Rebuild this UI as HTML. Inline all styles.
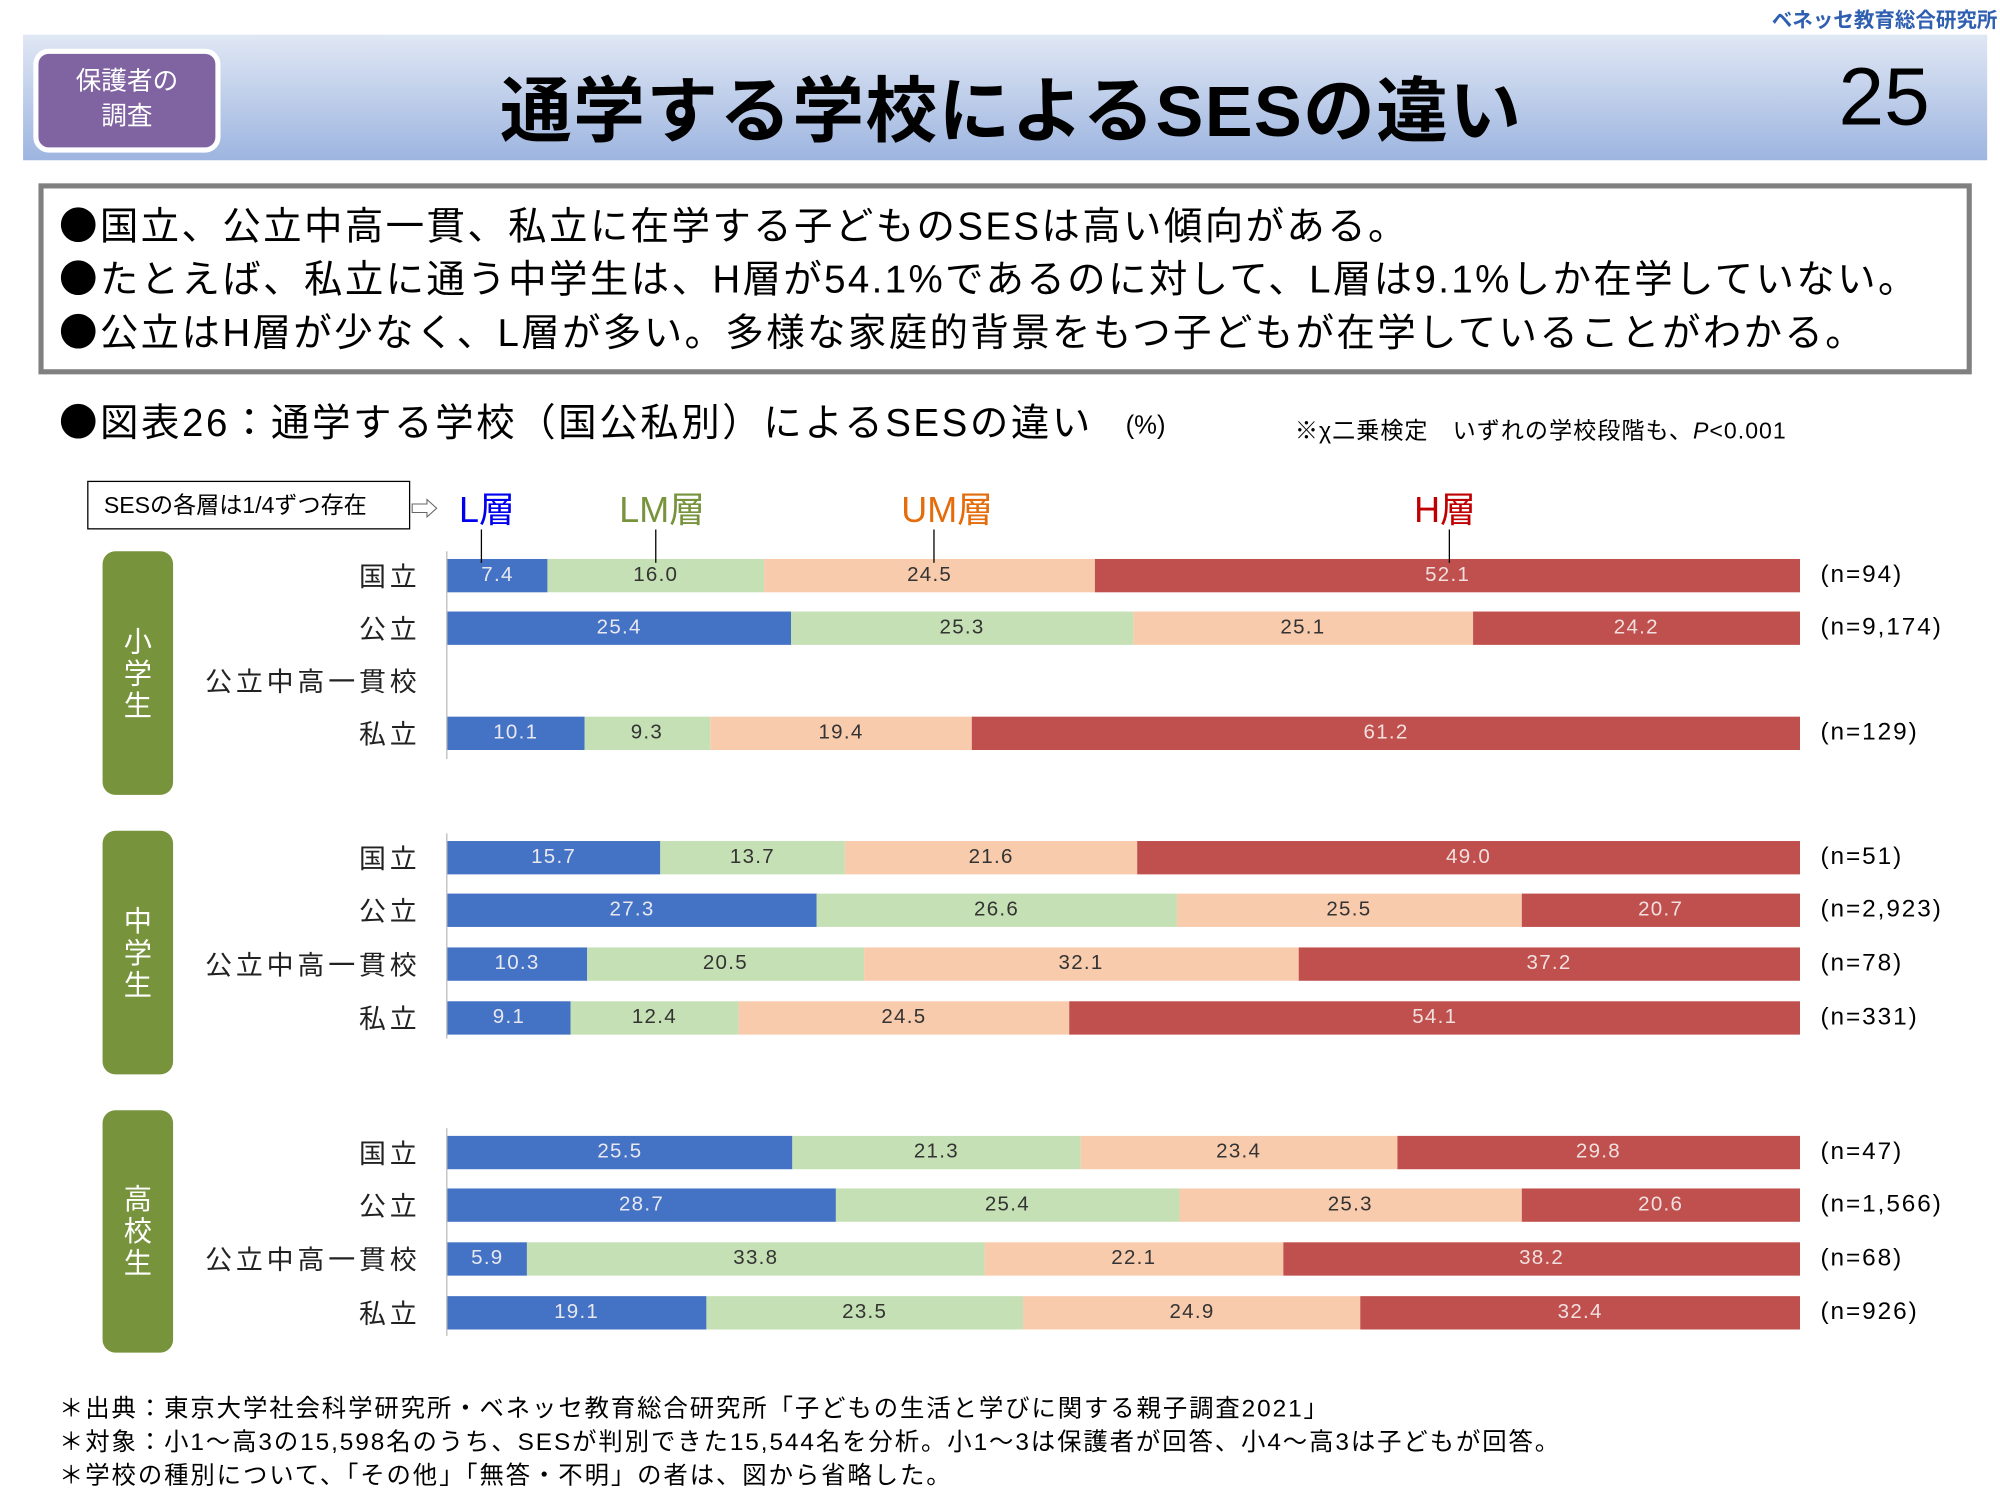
<!DOCTYPE html>
<html><head><meta charset="utf-8"><style>
html,body{margin:0;padding:0;background:#fff;width:2000px;height:1500px;overflow:hidden}
#c{position:absolute;left:0;top:0;width:1560px;height:1170px;transform:scale(1.28205);transform-origin:0 0;font-family:"Liberation Sans","Noto Sans CJK JP",sans-serif;color:#000}
.a{position:absolute;white-space:nowrap}
.b{font-family:"Noto Sans CJK JP",sans-serif;line-height:0;vertical-align:baseline}
.bar{position:absolute;left:349px;width:1055px;height:26px;display:flex}
.bar div{height:100%;display:flex;align-items:center;justify-content:center;font-size:16px;letter-spacing:1px}
.L{background:#4472C4;color:#e8e8f0}.LM{background:#C5E0B4;color:#333}.UM{background:#F8CBAD;color:#333}.H{background:#C0504D;color:#f0e0e0}
.lab{position:absolute;right:1232px;font-size:21px;color:#222;transform:translateY(-50%);letter-spacing:3px}
.n{position:absolute;left:1420px;font-size:19px;transform:translateY(-50%);letter-spacing:1.5px}
.side{position:absolute;left:80px;width:55px;background:#77933C;border-radius:10px;color:#fff;font-size:22px;display:flex;align-items:center;justify-content:center;line-height:25px;text-align:center}
.ax{position:absolute;left:348px;width:1px;background:#bbb}
.ln{position:absolute;left:46px;font-size:30px;letter-spacing:1.85px;white-space:nowrap;line-height:34px}
</style></head><body><div id="c">
<div class="a" style="right:2px;top:2px;font-size:16px;color:#2f5fb0;font-weight:bold">ベネッセ教育総合研究所</div>
<div class="a" style="left:18px;top:27px;width:1532px;height:98px;background:linear-gradient(#e0e7f4,#9db5e0)"></div>
<div class="a" style="left:26px;top:38px;width:138px;background:#8064A2;border:4px solid #fff;border-radius:12px;color:#fff;font-size:20px;text-align:center;line-height:27px;padding-top:9px;height:64px">保護者の<br>調査</div>
<div class="a" style="left:390px;top:42px;font-size:56px;font-weight:bold;letter-spacing:1px">通学する学校によるSESの違い</div>
<div class="a" style="left:1434px;top:38px;font-size:64px">25</div>
<div class="a" style="left:30px;top:143px;width:1500px;height:141px;border:4px solid #808080"></div>
<div class="ln" style="top:161px"><span class="b">●</span>国立、公立中高一貫、私立に在学する子どものSESは高い傾向がある。</div>
<div class="ln" style="top:202px"><span class="b">●</span>たとえば、私立に通う中学生は、H層が54.1%であるのに対して、L層は9.1%しか在学していない。</div>
<div class="ln" style="top:244px"><span class="b">●</span>公立はH層が少なく、L層が多い。多様な家庭的背景をもつ子どもが在学していることがわかる。</div>
<div class="ln" style="top:314px;letter-spacing:2px"><span class="b">●</span>図表26：通学する学校（国公私別）によるSESの違い</div>
<div class="a" style="left:878px;top:321px;font-size:20px">(%)</div>
<div class="a" style="left:1010px;top:322px;font-size:18px;letter-spacing:0.8px">※χ二乗検定　いずれの学校段階も、<i>P</i>&lt;0.001</div>
<div class="a" style="left:68px;top:375px;width:252px;height:38px;border:1px solid #000;box-sizing:border-box;font-size:18px;line-height:36px;padding-left:12px">SESの各層は1/4ずつ存在</div>
<div class="a" style="left:320px;top:380px;font-size:22px;color:#666">⇨</div>
<div class="a" style="left:358px;top:376px;font-size:28px;color:#0000ee">L層</div>
<div class="a" style="left:483px;top:376px;font-size:28px;color:#77933C">LM層</div>
<div class="a" style="left:703px;top:376px;font-size:28px;color:#E46C0A">UM層</div>
<div class="a" style="left:1103px;top:376px;font-size:28px;color:#C00000">H層</div>
<div class="ax" style="top:430px;height:162px"></div>
<div class="ax" style="top:650px;height:160px"></div>
<div class="ax" style="top:880px;height:162px"></div>
<div class="side" style="top:430px;height:190px">小<br>学<br>生</div>
<div class="side" style="top:648px;height:190px">中<br>学<br>生</div>
<div class="side" style="top:866px;height:189px">高<br>校<br>生</div>

<div class="lab" style="top:449px">国立</div><div class="bar" style="top:436px"><div class="L" style="width:7.4%">7.4</div><div class="LM" style="width:16%">16.0</div><div class="UM" style="width:24.5%">24.5</div><div class="H" style="width:52.1%">52.1</div></div><div class="n" style="top:449px">(n=94)</div>
<div class="lab" style="top:490px">公立</div><div class="bar" style="top:477px"><div class="L" style="width:25.4%">25.4</div><div class="LM" style="width:25.3%">25.3</div><div class="UM" style="width:25.1%">25.1</div><div class="H" style="width:24.2%">24.2</div></div><div class="n" style="top:490px">(n=9,174)</div>
<div class="lab" style="top:531px">公立中高一貫校</div>
<div class="lab" style="top:572px">私立</div><div class="bar" style="top:559px"><div class="L" style="width:10.1%">10.1</div><div class="LM" style="width:9.3%">9.3</div><div class="UM" style="width:19.4%">19.4</div><div class="H" style="width:61.2%">61.2</div></div><div class="n" style="top:572px">(n=129)</div>

<div class="lab" style="top:669px">国立</div><div class="bar" style="top:656px"><div class="L" style="width:15.7%">15.7</div><div class="LM" style="width:13.7%">13.7</div><div class="UM" style="width:21.6%">21.6</div><div class="H" style="width:49%">49.0</div></div><div class="n" style="top:669px">(n=51)</div>
<div class="lab" style="top:710px">公立</div><div class="bar" style="top:697px"><div class="L" style="width:27.3%">27.3</div><div class="LM" style="width:26.6%">26.6</div><div class="UM" style="width:25.5%">25.5</div><div class="H" style="width:20.6%">20.7</div></div><div class="n" style="top:710px">(n=2,923)</div>
<div class="lab" style="top:752px">公立中高一貫校</div><div class="bar" style="top:739px"><div class="L" style="width:10.3%">10.3</div><div class="LM" style="width:20.5%">20.5</div><div class="UM" style="width:32.1%">32.1</div><div class="H" style="width:37.1%">37.2</div></div><div class="n" style="top:752px">(n=78)</div>
<div class="lab" style="top:794px">私立</div><div class="bar" style="top:781px"><div class="L" style="width:9.1%">9.1</div><div class="LM" style="width:12.4%">12.4</div><div class="UM" style="width:24.5%">24.5</div><div class="H" style="width:54%">54.1</div></div><div class="n" style="top:794px">(n=331)</div>

<div class="lab" style="top:899px">国立</div><div class="bar" style="top:886px"><div class="L" style="width:25.5%">25.5</div><div class="LM" style="width:21.3%">21.3</div><div class="UM" style="width:23.4%">23.4</div><div class="H" style="width:29.8%">29.8</div></div><div class="n" style="top:899px">(n=47)</div>
<div class="lab" style="top:940px">公立</div><div class="bar" style="top:927px"><div class="L" style="width:28.7%">28.7</div><div class="LM" style="width:25.4%">25.4</div><div class="UM" style="width:25.3%">25.3</div><div class="H" style="width:20.6%">20.6</div></div><div class="n" style="top:940px">(n=1,566)</div>
<div class="lab" style="top:982px">公立中高一貫校</div><div class="bar" style="top:969px"><div class="L" style="width:5.9%">5.9</div><div class="LM" style="width:33.8%">33.8</div><div class="UM" style="width:22.1%">22.1</div><div class="H" style="width:38.2%">38.2</div></div><div class="n" style="top:982px">(n=68)</div>
<div class="lab" style="top:1024px">私立</div><div class="bar" style="top:1011px"><div class="L" style="width:19.1%">19.1</div><div class="LM" style="width:23.5%">23.5</div><div class="UM" style="width:24.9%">24.9</div><div class="H" style="width:32.5%">32.4</div></div><div class="n" style="top:1024px">(n=926)</div>

<div class="a" style="left:375px;top:413px;width:1px;height:26px;background:#000"></div>
<div class="a" style="left:511px;top:413px;width:1px;height:26px;background:#000"></div>
<div class="a" style="left:728px;top:413px;width:1px;height:26px;background:#000"></div>
<div class="a" style="left:1130px;top:413px;width:1px;height:26px;background:#000"></div>

<div class="a" style="left:46px;top:1087px;font-size:19px;line-height:26px;letter-spacing:1.5px">＊出典：東京大学社会科学研究所・ベネッセ教育総合研究所「子どもの生活と学びに関する親子調査2021」<br>＊対象：小1～高3の15,598名のうち、SESが判別できた15,544名を分析。小1～3は保護者が回答、小4～高3は子どもが回答。<br>＊学校の種別について、「その他」「無答・不明」の者は、図から省略した。</div>
</div></body></html>
